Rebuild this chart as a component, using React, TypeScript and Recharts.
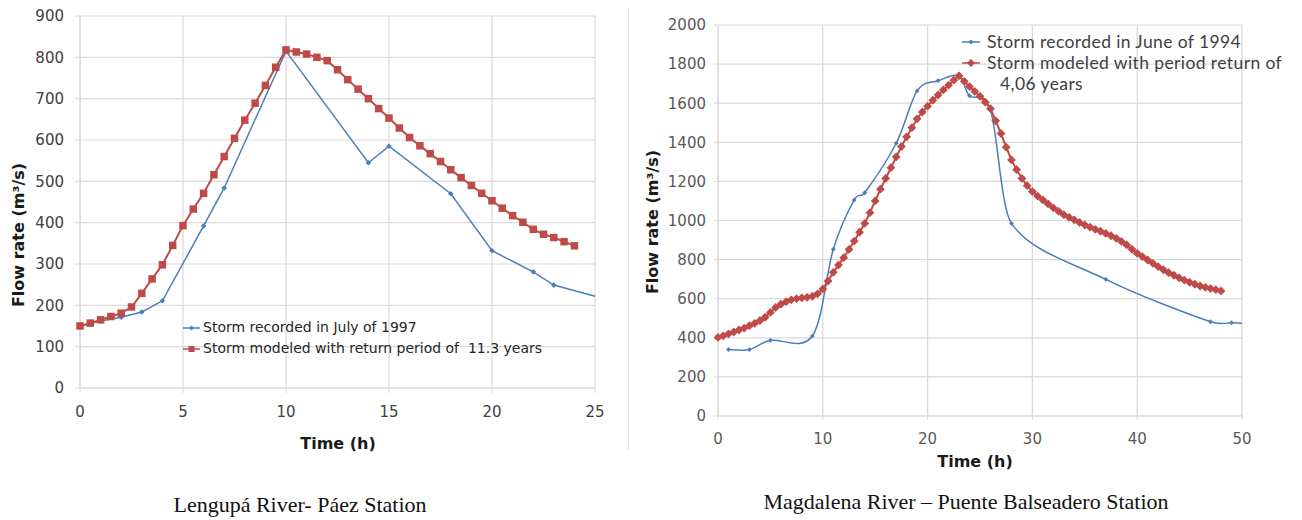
import React from 'react';
import { CartesianGrid, Label, Legend, Line, LineChart, XAxis, YAxis } from 'recharts';

const BLUE = '#4a7ebb';
const RED = '#be4b48';
const GRID = '#d9d9d9';

// Lengupá River - Páez Station
const lengupaTicksX = [0, 5, 10, 15, 20, 25];
const lengupaTicksY = [0, 100, 200, 300, 400, 500, 600, 700, 800, 900];
const lengupaRecordedHours = [0, 1, 2, 3, 4, 6, 7, 10, 14, 15, 18, 20, 22, 23, 25];
const lengupaRecordedFlow = [150, 162, 171, 184, 211, 392, 484, 815, 545, 585, 470, 332, 281, 249, 222];
const lengupaModeledHours = [
  0, 0.5, 1, 1.5, 2, 2.5, 3, 3.5, 4, 4.5, 5, 5.5, 6, 6.5, 7, 7.5, 8, 8.5, 9, 9.5,
  10, 10.5, 11, 11.5, 12, 12.5, 13, 13.5, 14, 14.5, 15, 15.5, 16, 16.5, 17, 17.5, 18, 18.5, 19, 19.5,
  20, 20.5, 21, 21.5, 22, 22.5, 23, 23.5, 24,
];
const lengupaModeledFlow = [
  150, 157, 165, 173, 181, 196, 229, 264, 298, 345, 393, 433, 471, 516, 560, 604, 648, 689, 732, 776,
  818, 813, 808, 800, 792, 770, 746, 723, 700, 676, 653, 629, 606, 586, 567, 548, 528, 509, 490, 471,
  453, 435, 417, 401, 384, 372, 364, 354, 344,
];

// Magdalena River - Puente Balseadero Station
const magdalenaTicksX = [0, 10, 20, 30, 40, 50];
const magdalenaTicksY = [0, 200, 400, 600, 800, 1000, 1200, 1400, 1600, 1800, 2000];
const magdalenaRecordedHours = [1, 3, 5, 9, 11, 13, 14, 17, 19, 21, 23, 24, 26, 28, 37, 47, 49, 50];
const magdalenaRecordedFlow = [340, 340, 387, 409, 853, 1105, 1142, 1395, 1663, 1715, 1740, 1638, 1565, 985, 699, 482, 477, 475];
const magdalenaModeledHours = [
  0, 0.5, 1, 1.5, 2, 2.5, 3, 3.5, 4, 4.5, 5, 5.5, 6, 6.5, 7, 7.5, 8, 8.5, 9, 9.5,
  10, 10.5, 11, 11.5, 12, 12.5, 13, 13.5, 14, 14.5, 15, 15.5, 16, 16.5, 17, 17.5, 18, 18.5, 19, 19.5,
  20, 20.5, 21, 21.5, 22, 22.5, 23, 23.5, 24, 24.5, 25, 25.5, 26, 26.5, 27, 27.5, 28, 28.5, 29, 29.5,
  30, 30.5, 31, 31.5, 32, 32.5, 33, 33.5, 34, 34.5, 35, 35.5, 36, 36.5, 37, 37.5, 38, 38.5, 39, 39.5,
  40, 40.5, 41, 41.5, 42, 42.5, 43, 43.5, 44, 44.5, 45, 45.5, 46, 46.5, 47, 47.5, 48,
];
const magdalenaModeledFlow = [
  402, 410, 420, 430, 440, 450, 462, 474, 488, 505, 530, 555, 572, 585, 594, 600, 604, 607, 612, 625,
  650, 690, 735, 772, 810, 852, 895, 940, 985, 1040, 1100, 1160, 1215, 1270, 1325, 1378, 1428, 1475, 1520, 1555,
  1585, 1615, 1642, 1668, 1692, 1718, 1740, 1712, 1685, 1660, 1635, 1605, 1572, 1510, 1445, 1375, 1310, 1260, 1215, 1178,
  1148, 1125, 1105, 1085, 1065, 1047, 1030, 1016, 1003, 990, 977, 966, 955, 945, 934, 922, 909, 893, 875, 853,
  832, 815, 798, 781, 764, 748, 733, 720, 707, 695, 684, 674, 665, 658, 652, 646, 640,
];

const toRows = (hours: number[], flow: number[]) => hours.map((t, i) => ({ t, q: flow[i] }));

const lengupaRecorded = toRows(lengupaRecordedHours, lengupaRecordedFlow);
const lengupaModeled = toRows(lengupaModeledHours, lengupaModeledFlow);
const magdalenaRecorded = toRows(magdalenaRecordedHours, magdalenaRecordedFlow);
const magdalenaModeled = toRows(magdalenaModeledHours, magdalenaModeledFlow);

// excel-like smoothed line: bezier handles at 1/6 of the neighbour spread,
// shortened when they would reach past half of the segment
const excelSmooth = (context: any) => {
  let pts: number[][] = [];
  const handle = (dx: number, dy: number, seg: number) => {
    const lim = Math.abs(seg) / 2;
    const k = Math.abs(dx) > lim && dx !== 0 ? lim / Math.abs(dx) : 1;
    return [dx * k, dy * k];
  };
  return {
    areaStart() {},
    areaEnd() {},
    lineStart() {
      pts = [];
    },
    lineEnd() {
      if (!pts.length) return;
      context.moveTo(pts[0][0], pts[0][1]);
      for (let i = 0; i < pts.length - 1; i++) {
        const p0 = pts[i - 1] || pts[i];
        const p1 = pts[i];
        const p2 = pts[i + 1];
        const p3 = pts[i + 2] || p2;
        const seg = p2[0] - p1[0];
        const h1 = handle((p2[0] - p0[0]) / 6, (p2[1] - p0[1]) / 6, seg);
        const h2 = handle((p3[0] - p1[0]) / 6, (p3[1] - p1[1]) / 6, seg);
        context.bezierCurveTo(p1[0] + h1[0], p1[1] + h1[1], p2[0] - h2[0], p2[1] - h2[1], p2[0], p2[1]);
      }
    },
    point(x: number, y: number) {
      pts.push([x, y]);
    },
  };
};

const diamondPath = (cx: number, cy: number, r: number) =>
  `M${cx},${cy - r}L${cx + r},${cy}L${cx},${cy + r}L${cx - r},${cy}Z`;

const diamondDot = (r: number, color: string, total = -1) => (p: any) => {
  const { cx, cy, index } = p;
  if (cx == null || cy == null || index === total - 1) return <g key={`dd${index}`} />;
  return <path key={`dd${index}`} d={diamondPath(cx, cy, r)} fill={color} stroke="none" />;
};

const squareDot = (s: number, color: string) => (p: any) => {
  const { cx, cy, index } = p;
  if (cx == null || cy == null) return <g key={`sd${index}`} />;
  return <rect key={`sd${index}`} x={cx - s / 2} y={cy - s / 2} width={s} height={s} fill={color} />;
};

const LegendIcon = ({ color, shape, size, width }: any) => (
  <svg width={width} height={12} style={{ flex: 'none', display: 'block' }}>
    <line x1={0} y1={6} x2={width} y2={6} stroke={color} strokeWidth={1.5} />
    {shape === 'square' ? (
      <rect x={width / 2 - size / 2} y={6 - size / 2} width={size} height={size} fill={color} />
    ) : (
      <path d={diamondPath(width / 2, 6, size)} fill={color} />
    )}
  </svg>
);

const LengupaLegend = () => (
  <div style={{ fontFamily: 'DejaVu Sans', fontSize: 14, color: '#262626', lineHeight: '21px' }}>
    <div style={{ display: 'flex', alignItems: 'center', gap: 3 }}>
      <LegendIcon color={BLUE} shape="diamond" size={2.5} width={17} />
      <span style={{ whiteSpace: 'pre' }}>Storm recorded in July of 1997</span>
    </div>
    <div style={{ display: 'flex', alignItems: 'center', gap: 3 }}>
      <LegendIcon color={RED} shape="square" size={6} width={17} />
      <span style={{ whiteSpace: 'pre' }}>Storm modeled with return period of  11.3 years</span>
    </div>
  </div>
);

const MagdalenaLegend = () => (
  <div style={{ fontFamily: 'Lato', fontSize: 17.5, letterSpacing: 0.4, color: '#404040', lineHeight: '21px' }}>
    <div style={{ display: 'flex', alignItems: 'center', gap: 7 }}>
      <LegendIcon color={BLUE} shape="diamond" size={2.5} width={18} />
      <span style={{ whiteSpace: 'nowrap' }}>Storm recorded in June of 1994</span>
    </div>
    <div style={{ display: 'flex', alignItems: 'flex-start', gap: 7 }}>
      <div style={{ height: 21, display: 'flex', alignItems: 'center' }}>
        <LegendIcon color={RED} shape="diamond" size={4} width={18} />
      </div>
      <span style={{ whiteSpace: 'pre-line', paddingLeft: 13, textIndent: -13 }}>
        {'Storm modeled with period return of\n4,06 years'}
      </span>
    </div>
  </div>
);

const AxisTitle = ({ tx, ty, rotate, text }: any) => (
  <text
    x={tx}
    y={ty}
    transform={rotate ? `rotate(-90 ${tx} ${ty})` : undefined}
    textAnchor="middle"
    dominantBaseline="central"
    fontFamily="DejaVu Sans"
    fontWeight="bold"
    fontSize={16}
    fill="#1a1a1a"
  >
    {text}
  </text>
);

const tickStyleLeft = { fill: '#404040', fontSize: 15, fontFamily: 'DejaVu Sans' };
const tickStyleRight = { fill: '#595959', fontSize: 15, fontFamily: 'DejaVu Sans' };

const captionStyle: React.CSSProperties = {
  position: 'absolute',
  fontFamily: 'Liberation Serif',
  fontSize: 22,
  color: '#111',
  whiteSpace: 'nowrap',
  transform: 'translateX(-50%)',
};

export default function App() {
  return (
    <div style={{ position: 'absolute', left: 0, top: 0, width: 1302, height: 520, background: '#fff', overflow: 'hidden' }}>
      <div style={{ position: 'absolute', left: 0, top: 0 }}>
        <LineChart width={620} height={460} margin={{ top: 16, right: 25, bottom: 0, left: 0 }}>
          <CartesianGrid stroke={GRID} strokeWidth={1.2} />
          <XAxis
            type="number"
            dataKey="t"
            domain={[0, 25]}
            ticks={lengupaTicksX}
            height={72}
            tick={tickStyleLeft}
            tickSize={5}
            tickMargin={13}
            axisLine={{ stroke: GRID }}
            tickLine={{ stroke: GRID }}
          >
            <Label content={<AxisTitle tx={338} ty={443} text="Time (h)" />} />
          </XAxis>
          <YAxis
            type="number"
            domain={[0, 900]}
            ticks={lengupaTicksY}
            width={80}
            tick={tickStyleLeft}
            tickSize={5}
            tickMargin={11}
            axisLine={{ stroke: GRID }}
            tickLine={{ stroke: GRID }}
          >
            <Label content={<AxisTitle tx={18} ty={235} rotate text="Flow rate (m³/s)" />} />
          </YAxis>
          <Legend
            layout="vertical"
            align="center"
            verticalAlign="middle"
            wrapperStyle={{ left: 183, top: 317, width: 420 }}
            content={() => <LengupaLegend />}
          />
          <Line
            data={lengupaRecorded}
            dataKey="q"
            name="Storm recorded in July of 1997"
            type="linear"
            stroke={BLUE}
            strokeWidth={1.5}
            dot={diamondDot(2.8, BLUE, lengupaRecorded.length)}
            activeDot={false}
            isAnimationActive={false}
          />
          <Line
            data={lengupaModeled}
            dataKey="q"
            name="Storm modeled with return period of  11.3 years"
            type="linear"
            stroke={RED}
            strokeWidth={2}
            dot={squareDot(7.5, RED)}
            activeDot={false}
            isAnimationActive={false}
          />
        </LineChart>
      </div>

      <div style={{ position: 'absolute', left: 628, top: 8, width: 1, height: 442, background: '#e2e2e2' }} />

      <div style={{ position: 'absolute', left: 630, top: 0 }}>
        <LineChart width={672} height={480} margin={{ top: 25, right: 60, bottom: 0, left: 0 }}>
          <CartesianGrid stroke={GRID} strokeWidth={1.2} />
          <XAxis
            type="number"
            dataKey="t"
            domain={[0, 50]}
            ticks={magdalenaTicksX}
            height={64}
            tick={tickStyleRight}
            tickSize={4}
            tickMargin={13}
            axisLine={{ stroke: GRID }}
            tickLine={{ stroke: GRID }}
          >
            <Label content={<AxisTitle tx={345} ty={461} text="Time (h)" />} />
          </XAxis>
          <YAxis
            type="number"
            domain={[0, 2000]}
            ticks={magdalenaTicksY}
            width={88}
            tick={tickStyleRight}
            tickSize={4}
            tickMargin={8}
            axisLine={{ stroke: GRID }}
            tickLine={{ stroke: GRID }}
          >
            <Label content={<AxisTitle tx={22} ty={222} rotate text="Flow rate (m³/s)" />} />
          </YAxis>
          <Legend
            layout="vertical"
            align="center"
            verticalAlign="middle"
            wrapperStyle={{ left: 332, top: 31, width: 340 }}
            content={() => <MagdalenaLegend />}
          />
          <Line
            data={magdalenaRecorded}
            dataKey="q"
            name="Storm recorded in June of 1994"
            type={excelSmooth as any}
            stroke={BLUE}
            strokeWidth={1.5}
            dot={diamondDot(2.4, BLUE, magdalenaRecorded.length)}
            activeDot={false}
            isAnimationActive={false}
          />
          <Line
            data={magdalenaModeled}
            dataKey="q"
            name="Storm modeled with period return of 4,06 years"
            type="linear"
            stroke={RED}
            strokeWidth={2}
            dot={diamondDot(4.4, RED)}
            activeDot={false}
            isAnimationActive={false}
          />
        </LineChart>
      </div>

      <div style={{ ...captionStyle, left: 300, top: 492 }}>Lengupá River- Páez Station</div>
      <div style={{ ...captionStyle, left: 966, top: 489 }}>Magdalena River – Puente Balseadero Station</div>
    </div>
  );
}
